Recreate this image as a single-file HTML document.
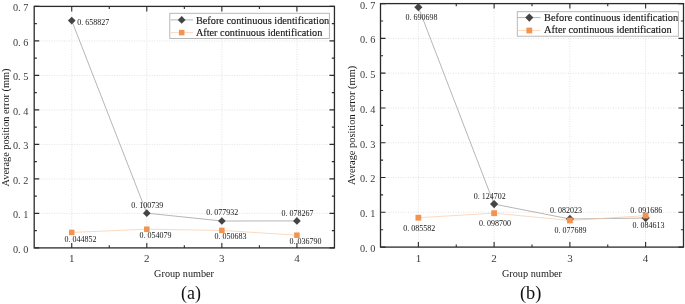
<!DOCTYPE html>
<html><head><meta charset="utf-8"><style>
html,body{margin:0;padding:0;background:#fff;}
svg{display:block;will-change:transform;}
text{font-family:"Liberation Serif", serif;}
</style></head><body>
<svg width="685" height="304" viewBox="0 0 685 304">
<rect width="685" height="304" fill="#fff"/>
<line x1="71.73" y1="6.4" x2="71.73" y2="247.9" stroke="#dadada" stroke-width="0.8" stroke-dasharray="1 1.5"/>
<line x1="146.79" y1="6.4" x2="146.79" y2="247.9" stroke="#dadada" stroke-width="0.8" stroke-dasharray="1 1.5"/>
<line x1="221.86" y1="6.4" x2="221.86" y2="247.9" stroke="#dadada" stroke-width="0.8" stroke-dasharray="1 1.5"/>
<line x1="296.92" y1="6.4" x2="296.92" y2="247.9" stroke="#dadada" stroke-width="0.8" stroke-dasharray="1 1.5"/>
<line x1="34.2" y1="213.4" x2="334.45" y2="213.4" stroke="#dadada" stroke-width="0.8" stroke-dasharray="1 1.5"/>
<line x1="34.2" y1="178.9" x2="334.45" y2="178.9" stroke="#dadada" stroke-width="0.8" stroke-dasharray="1 1.5"/>
<line x1="34.2" y1="144.4" x2="334.45" y2="144.4" stroke="#dadada" stroke-width="0.8" stroke-dasharray="1 1.5"/>
<line x1="34.2" y1="109.9" x2="334.45" y2="109.9" stroke="#dadada" stroke-width="0.8" stroke-dasharray="1 1.5"/>
<line x1="34.2" y1="75.4" x2="334.45" y2="75.4" stroke="#dadada" stroke-width="0.8" stroke-dasharray="1 1.5"/>
<line x1="34.2" y1="40.9" x2="334.45" y2="40.9" stroke="#dadada" stroke-width="0.8" stroke-dasharray="1 1.5"/>
<path d="M71.73 247.9V242.9M71.73 6.4V11.4M146.79 247.9V242.9M146.79 6.4V11.4M221.86 247.9V242.9M221.86 6.4V11.4M296.92 247.9V242.9M296.92 6.4V11.4M109.26 247.9V245.3M109.26 6.4V9M184.32 247.9V245.3M184.32 6.4V9M259.39 247.9V245.3M259.39 6.4V9M34.2 247.9H39.2M334.45 247.9H329.45M34.2 213.4H39.2M334.45 213.4H329.45M34.2 178.9H39.2M334.45 178.9H329.45M34.2 144.4H39.2M334.45 144.4H329.45M34.2 109.9H39.2M334.45 109.9H329.45M34.2 75.4H39.2M334.45 75.4H329.45M34.2 40.9H39.2M334.45 40.9H329.45M34.2 6.4H39.2M334.45 6.4H329.45M34.2 230.65H36.8M334.45 230.65H331.85M34.2 196.15H36.8M334.45 196.15H331.85M34.2 161.65H36.8M334.45 161.65H331.85M34.2 127.15H36.8M334.45 127.15H331.85M34.2 92.65H36.8M334.45 92.65H331.85M34.2 58.15H36.8M334.45 58.15H331.85M34.2 23.65H36.8M334.45 23.65H331.85" stroke="#2b2b2b" stroke-width="1.1" fill="none"/>
<rect x="34.2" y="6.4" width="300.25" height="241.5" fill="none" stroke="#2b2b2b" stroke-width="1.3"/>
<polyline points="71.73,20.6 146.79,213.15 221.86,221.01 296.92,220.9" fill="none" stroke="#979797" stroke-width="0.7"/>
<path d="M71.73 16.75L75.58 20.6L71.73 24.45L67.88 20.6Z" fill="#444444"/>
<path d="M146.79 209.3L150.64 213.15L146.79 217L142.94 213.15Z" fill="#444444"/>
<path d="M221.86 217.16L225.71 221.01L221.86 224.86L218.01 221.01Z" fill="#444444"/>
<path d="M296.92 217.05L300.77 220.9L296.92 224.75L293.07 220.9Z" fill="#444444"/>
<polyline points="71.73,232.43 146.79,229.24 221.86,230.41 296.92,235.21" fill="none" stroke="#f8c8a6" stroke-width="0.7"/>
<rect x="68.98" y="229.68" width="5.5" height="5.5" fill="#f4924f"/>
<rect x="144.04" y="226.49" width="5.5" height="5.5" fill="#f4924f"/>
<rect x="219.11" y="227.66" width="5.5" height="5.5" fill="#f4924f"/>
<rect x="294.17" y="232.46" width="5.5" height="5.5" fill="#f4924f"/>
<text x="77.2" y="24.6" font-size="8.4" textLength="32" lengthAdjust="spacingAndGlyphs" fill="#161616">0. 658827</text>
<text x="131.3" y="207.6" font-size="8.4" textLength="32" lengthAdjust="spacingAndGlyphs" fill="#161616">0. 100739</text>
<text x="206.3" y="215.3" font-size="8.4" textLength="32" lengthAdjust="spacingAndGlyphs" fill="#161616">0. 077932</text>
<text x="281.45" y="215.8" font-size="8.4" textLength="32" lengthAdjust="spacingAndGlyphs" fill="#161616">0. 078267</text>
<text x="64.5" y="241.6" font-size="8.4" textLength="32" lengthAdjust="spacingAndGlyphs" fill="#161616">0. 044852</text>
<text x="139.4" y="238.3" font-size="8.4" textLength="32" lengthAdjust="spacingAndGlyphs" fill="#161616">0. 054079</text>
<text x="214.4" y="239.4" font-size="8.4" textLength="32" lengthAdjust="spacingAndGlyphs" fill="#161616">0. 050683</text>
<text x="289.6" y="244.2" font-size="8.4" textLength="32" lengthAdjust="spacingAndGlyphs" fill="#161616">0. 036790</text>
<text x="28.3" y="252.8" font-size="11" text-anchor="end" textLength="15.4" lengthAdjust="spacingAndGlyphs" fill="#3a3a3a">0. 0</text>
<text x="28.3" y="218.3" font-size="11" text-anchor="end" textLength="15.4" lengthAdjust="spacingAndGlyphs" fill="#3a3a3a">0. 1</text>
<text x="28.3" y="183.8" font-size="11" text-anchor="end" textLength="15.4" lengthAdjust="spacingAndGlyphs" fill="#3a3a3a">0. 2</text>
<text x="28.3" y="149.3" font-size="11" text-anchor="end" textLength="15.4" lengthAdjust="spacingAndGlyphs" fill="#3a3a3a">0. 3</text>
<text x="28.3" y="114.8" font-size="11" text-anchor="end" textLength="15.4" lengthAdjust="spacingAndGlyphs" fill="#3a3a3a">0. 4</text>
<text x="28.3" y="80.3" font-size="11" text-anchor="end" textLength="15.4" lengthAdjust="spacingAndGlyphs" fill="#3a3a3a">0. 5</text>
<text x="28.3" y="45.8" font-size="11" text-anchor="end" textLength="15.4" lengthAdjust="spacingAndGlyphs" fill="#3a3a3a">0. 6</text>
<text x="28.3" y="11.3" font-size="11" text-anchor="end" textLength="15.4" lengthAdjust="spacingAndGlyphs" fill="#3a3a3a">0. 7</text>
<text x="71.73" y="262" font-size="11" text-anchor="middle" fill="#3a3a3a">1</text>
<text x="146.79" y="262" font-size="11" text-anchor="middle" fill="#3a3a3a">2</text>
<text x="221.86" y="262" font-size="11" text-anchor="middle" fill="#3a3a3a">3</text>
<text x="296.92" y="262" font-size="11" text-anchor="middle" fill="#3a3a3a">4</text>
<text x="154.1" y="277" font-size="10.6" textLength="59.9" lengthAdjust="spacingAndGlyphs" fill="#161616">Group number</text>
<text transform="translate(8.5 186.4) rotate(-90)" x="0" y="0" font-size="10.6" textLength="117.9" lengthAdjust="spacingAndGlyphs" fill="#161616">Average position error (mm)</text>
<text x="181" y="298.5" font-size="19" textLength="19.9" lengthAdjust="spacingAndGlyphs" fill="#111">(a)</text>
<rect x="169.8" y="13.3" width="159.6" height="25.2" fill="#fff" stroke="#b0b0b0" stroke-width="0.9"/>
<line x1="170.7" y1="19.9" x2="193.1" y2="19.9" stroke="#979797" stroke-width="0.7"/>
<path d="M181.7 16.05L185.55 19.9L181.7 23.75L177.85 19.9Z" fill="#444444"/>
<line x1="170.7" y1="32.6" x2="193.1" y2="32.6" stroke="#f8c8a6" stroke-width="0.7"/>
<rect x="178.95" y="29.85" width="5.5" height="5.5" fill="#f4924f"/>
<text x="195.9" y="23.7" font-size="10.9" textLength="133.3" lengthAdjust="spacingAndGlyphs" fill="#161616" stroke="#161616" stroke-width="0.15">Before continuous identification</text>
<text x="195.9" y="36.1" font-size="10.9" textLength="126.4" lengthAdjust="spacingAndGlyphs" fill="#161616" stroke="#161616" stroke-width="0.15">After continuous identification</text>
<line x1="418.38" y1="3.6" x2="418.38" y2="247.1" stroke="#dadada" stroke-width="0.8" stroke-dasharray="1 1.5"/>
<line x1="494.12" y1="3.6" x2="494.12" y2="247.1" stroke="#dadada" stroke-width="0.8" stroke-dasharray="1 1.5"/>
<line x1="569.88" y1="3.6" x2="569.88" y2="247.1" stroke="#dadada" stroke-width="0.8" stroke-dasharray="1 1.5"/>
<line x1="645.62" y1="3.6" x2="645.62" y2="247.1" stroke="#dadada" stroke-width="0.8" stroke-dasharray="1 1.5"/>
<line x1="380.5" y1="212.31" x2="683.5" y2="212.31" stroke="#dadada" stroke-width="0.8" stroke-dasharray="1 1.5"/>
<line x1="380.5" y1="177.53" x2="683.5" y2="177.53" stroke="#dadada" stroke-width="0.8" stroke-dasharray="1 1.5"/>
<line x1="380.5" y1="142.74" x2="683.5" y2="142.74" stroke="#dadada" stroke-width="0.8" stroke-dasharray="1 1.5"/>
<line x1="380.5" y1="107.96" x2="683.5" y2="107.96" stroke="#dadada" stroke-width="0.8" stroke-dasharray="1 1.5"/>
<line x1="380.5" y1="73.17" x2="683.5" y2="73.17" stroke="#dadada" stroke-width="0.8" stroke-dasharray="1 1.5"/>
<line x1="380.5" y1="38.39" x2="683.5" y2="38.39" stroke="#dadada" stroke-width="0.8" stroke-dasharray="1 1.5"/>
<path d="M418.38 247.1V242.1M418.38 3.6V8.6M494.12 247.1V242.1M494.12 3.6V8.6M569.88 247.1V242.1M569.88 3.6V8.6M645.62 247.1V242.1M645.62 3.6V8.6M456.25 247.1V244.5M456.25 3.6V6.2M532 247.1V244.5M532 3.6V6.2M607.75 247.1V244.5M607.75 3.6V6.2M380.5 247.1H385.5M683.5 247.1H678.5M380.5 212.31H385.5M683.5 212.31H678.5M380.5 177.53H385.5M683.5 177.53H678.5M380.5 142.74H385.5M683.5 142.74H678.5M380.5 107.96H385.5M683.5 107.96H678.5M380.5 73.17H385.5M683.5 73.17H678.5M380.5 38.39H385.5M683.5 38.39H678.5M380.5 3.6H385.5M683.5 3.6H678.5M380.5 229.71H383.1M683.5 229.71H680.9M380.5 194.92H383.1M683.5 194.92H680.9M380.5 160.14H383.1M683.5 160.14H680.9M380.5 125.35H383.1M683.5 125.35H680.9M380.5 90.56H383.1M683.5 90.56H680.9M380.5 55.78H383.1M683.5 55.78H680.9M380.5 20.99H383.1M683.5 20.99H680.9" stroke="#2b2b2b" stroke-width="1.1" fill="none"/>
<rect x="380.5" y="3.6" width="303" height="243.5" fill="none" stroke="#2b2b2b" stroke-width="1.3"/>
<polyline points="418.38,7.24 494.12,204.12 569.88,218.97 645.62,218.07" fill="none" stroke="#979797" stroke-width="0.7"/>
<path d="M418.38 3.14L422.48 7.24L418.38 11.34L414.27 7.24Z" fill="#444444"/>
<path d="M494.12 200.02L498.23 204.12L494.12 208.22L490.02 204.12Z" fill="#444444"/>
<path d="M569.88 214.87L573.98 218.97L569.88 223.07L565.77 218.97Z" fill="#444444"/>
<path d="M645.62 213.97L649.73 218.07L645.62 222.17L641.52 218.07Z" fill="#444444"/>
<polyline points="418.38,217.73 494.12,213.17 569.88,220.48 645.62,215.61" fill="none" stroke="#f8c8a6" stroke-width="0.7"/>
<rect x="415.48" y="214.83" width="5.8" height="5.8" fill="#f4924f"/>
<rect x="491.23" y="210.27" width="5.8" height="5.8" fill="#f4924f"/>
<rect x="566.98" y="217.58" width="5.8" height="5.8" fill="#f4924f"/>
<rect x="642.73" y="212.71" width="5.8" height="5.8" fill="#f4924f"/>
<text x="405.5" y="19.7" font-size="8.4" textLength="32" lengthAdjust="spacingAndGlyphs" fill="#161616">0. 690698</text>
<text x="473.7" y="199" font-size="8.4" textLength="32" lengthAdjust="spacingAndGlyphs" fill="#161616">0. 124702</text>
<text x="550" y="212.8" font-size="8.4" textLength="32" lengthAdjust="spacingAndGlyphs" fill="#161616">0. 082023</text>
<text x="630.2" y="212.8" font-size="8.4" textLength="32" lengthAdjust="spacingAndGlyphs" fill="#161616">0. 091686</text>
<text x="403.3" y="230.7" font-size="8.4" textLength="32" lengthAdjust="spacingAndGlyphs" fill="#161616">0. 085582</text>
<text x="479" y="226.1" font-size="8.4" textLength="32" lengthAdjust="spacingAndGlyphs" fill="#161616">0. 098700</text>
<text x="554.4" y="233.2" font-size="8.4" textLength="32" lengthAdjust="spacingAndGlyphs" fill="#161616">0. 077689</text>
<text x="632.5" y="228.3" font-size="8.4" textLength="32" lengthAdjust="spacingAndGlyphs" fill="#161616">0. 084613</text>
<text x="375.3" y="252" font-size="11" text-anchor="end" textLength="15.4" lengthAdjust="spacingAndGlyphs" fill="#3a3a3a">0. 0</text>
<text x="375.3" y="217.21" font-size="11" text-anchor="end" textLength="15.4" lengthAdjust="spacingAndGlyphs" fill="#3a3a3a">0. 1</text>
<text x="375.3" y="182.43" font-size="11" text-anchor="end" textLength="15.4" lengthAdjust="spacingAndGlyphs" fill="#3a3a3a">0. 2</text>
<text x="375.3" y="147.64" font-size="11" text-anchor="end" textLength="15.4" lengthAdjust="spacingAndGlyphs" fill="#3a3a3a">0. 3</text>
<text x="375.3" y="112.86" font-size="11" text-anchor="end" textLength="15.4" lengthAdjust="spacingAndGlyphs" fill="#3a3a3a">0. 4</text>
<text x="375.3" y="78.07" font-size="11" text-anchor="end" textLength="15.4" lengthAdjust="spacingAndGlyphs" fill="#3a3a3a">0. 5</text>
<text x="375.3" y="43.29" font-size="11" text-anchor="end" textLength="15.4" lengthAdjust="spacingAndGlyphs" fill="#3a3a3a">0. 6</text>
<text x="375.3" y="8.5" font-size="11" text-anchor="end" textLength="15.4" lengthAdjust="spacingAndGlyphs" fill="#3a3a3a">0. 7</text>
<text x="418.38" y="262" font-size="11" text-anchor="middle" fill="#3a3a3a">1</text>
<text x="494.12" y="262" font-size="11" text-anchor="middle" fill="#3a3a3a">2</text>
<text x="569.88" y="262" font-size="11" text-anchor="middle" fill="#3a3a3a">3</text>
<text x="645.62" y="262" font-size="11" text-anchor="middle" fill="#3a3a3a">4</text>
<text x="501.9" y="277" font-size="10.6" textLength="60.1" lengthAdjust="spacingAndGlyphs" fill="#161616">Group number</text>
<text transform="translate(355.3 185) rotate(-90)" x="0" y="0" font-size="10.6" textLength="119.2" lengthAdjust="spacingAndGlyphs" fill="#161616">Average position error (mm)</text>
<text x="519.9" y="298.6" font-size="19" textLength="21.4" lengthAdjust="spacingAndGlyphs" fill="#111">(b)</text>
<rect x="517.3" y="11.7" width="161.1" height="24.5" fill="#fff" stroke="#b0b0b0" stroke-width="0.9"/>
<line x1="517.7" y1="17.6" x2="540.5" y2="17.6" stroke="#979797" stroke-width="0.7"/>
<path d="M529.3 13.5L533.4 17.6L529.3 21.7L525.2 17.6Z" fill="#444444"/>
<line x1="517.7" y1="30.5" x2="540.5" y2="30.5" stroke="#f8c8a6" stroke-width="0.7"/>
<rect x="526.4" y="27.6" width="5.8" height="5.8" fill="#f4924f"/>
<text x="544.1" y="20.9" font-size="10.9" textLength="134.1" lengthAdjust="spacingAndGlyphs" fill="#161616" stroke="#161616" stroke-width="0.15">Before continuous identification</text>
<text x="544.1" y="33.3" font-size="10.9" textLength="127.5" lengthAdjust="spacingAndGlyphs" fill="#161616" stroke="#161616" stroke-width="0.15">After continuous identification</text>
</svg>
</body></html>
